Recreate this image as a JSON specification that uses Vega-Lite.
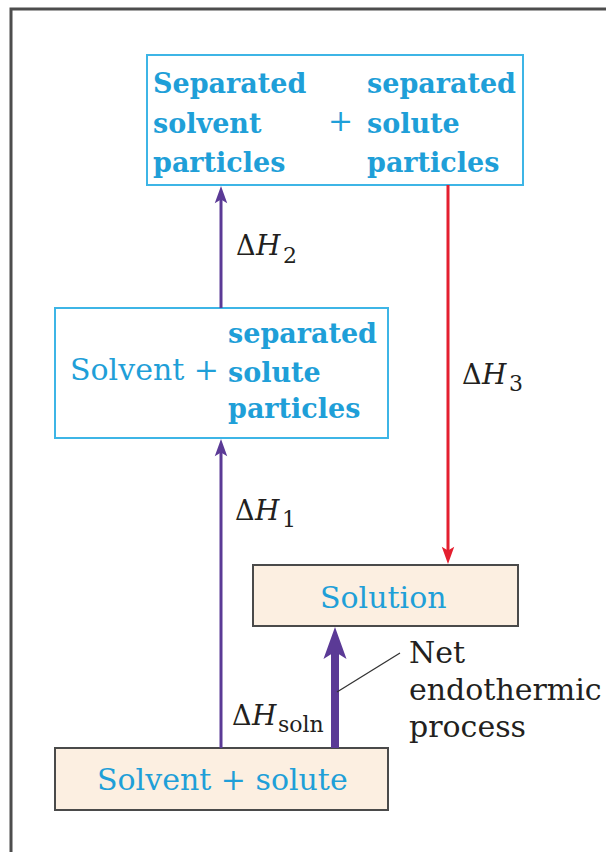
{
  "$schema": "https://vega.github.io/schema/vega-lite/v6.json",
  "width": 606,
  "height": 852,
  "autosize": "none",
  "padding": 0,
  "background": "#ffffff",
  "config": {"view": {"stroke": null}, "axis": {"disable": true}},
  "resolve": {"scale": {"color": "independent"}},
  "datasets": {
    "frame": [{"x": 11, "x2": 800, "y": 9, "y2": 1000}],
    "boxes": [
      {"name": "separated solvent + separated solute", "kind": "separated", "x": 147, "x2": 523, "y": 55, "y2": 185},
      {"name": "solvent + separated solute", "kind": "separated", "x": 55, "x2": 388, "y": 308, "y2": 438},
      {"name": "solution", "kind": "mixed", "x": 253, "x2": 518, "y": 565, "y2": 626},
      {"name": "solvent + solute", "kind": "mixed", "x": 55, "x2": 388, "y": 748, "y2": 810}
    ],
    "arrows": [
      {"step": "ΔH1", "effect": "endothermic", "weight": "step", "dir": "up", "x": 221, "from": 748, "neck": 447, "tip": 439},
      {"step": "ΔH2", "effect": "endothermic", "weight": "step", "dir": "up", "x": 221, "from": 308, "neck": 194, "tip": 186},
      {"step": "ΔH3", "effect": "exothermic", "weight": "step", "dir": "down", "x": 448, "from": 185, "neck": 556, "tip": 564},
      {"step": "ΔHsoln", "effect": "endothermic", "weight": "net", "dir": "up", "x": 335, "from": 748, "neck": 650, "tip": 627}
    ],
    "leaders": [{"x": 337, "y": 692, "x2": 400, "y2": 653}],
    "labels": [
      {"text": "Separated", "style": "bold", "role": "box", "x": 153, "y": 93},
      {"text": "solvent", "style": "bold", "role": "box", "x": 153, "y": 133},
      {"text": "particles", "style": "bold", "role": "box", "x": 153, "y": 172},
      {"text": "+", "style": "regular", "role": "box", "x": 328, "y": 131},
      {"text": "separated", "style": "bold", "role": "box", "x": 367, "y": 93},
      {"text": "solute", "style": "bold", "role": "box", "x": 367, "y": 133},
      {"text": "particles", "style": "bold", "role": "box", "x": 367, "y": 172},
      {"text": "Solvent +", "style": "regular", "role": "box", "x": 70, "y": 380},
      {"text": "separated", "style": "bold", "role": "box", "x": 228, "y": 343},
      {"text": "solute", "style": "bold", "role": "box", "x": 228, "y": 382},
      {"text": "particles", "style": "bold", "role": "box", "x": 228, "y": 418},
      {"text": "Solution", "style": "regular", "role": "box", "x": 320, "y": 608},
      {"text": "Solvent + solute", "style": "regular", "role": "box", "x": 97, "y": 790},
      {"text": "Net", "style": "regular", "role": "note", "x": 409, "y": 663},
      {"text": "endothermic", "style": "regular", "role": "note", "x": 409, "y": 700},
      {"text": "process", "style": "regular", "role": "note", "x": 409, "y": 737},
      {"text": "Δ", "style": "symbol", "role": "note", "x": 236, "y": 255},
      {"text": "H", "style": "italic", "role": "note", "x": 256, "y": 255},
      {"text": "2", "style": "sub", "role": "note", "x": 283, "y": 263},
      {"text": "Δ", "style": "symbol", "role": "note", "x": 235, "y": 520},
      {"text": "H", "style": "italic", "role": "note", "x": 255, "y": 520},
      {"text": "1", "style": "sub", "role": "note", "x": 282, "y": 527},
      {"text": "Δ", "style": "symbol", "role": "note", "x": 462, "y": 384},
      {"text": "H", "style": "italic", "role": "note", "x": 482, "y": 384},
      {"text": "3", "style": "sub", "role": "note", "x": 509, "y": 391},
      {"text": "Δ", "style": "symbol", "role": "note", "x": 232, "y": 725},
      {"text": "H", "style": "italic", "role": "note", "x": 252, "y": 725},
      {"text": "soln", "style": "sub", "role": "note", "x": 278, "y": 732}
    ]
  },
  "layer": [
    {
      "data": {"name": "frame"},
      "mark": {"type": "rect", "filled": false, "stroke": "#4d4d4d", "strokeWidth": 3},
      "encoding": {
        "x": {"field": "x", "type": "quantitative", "scale": {"domain": [0, 606], "nice": false, "zero": false}},
        "x2": {"field": "x2"},
        "y": {"field": "y", "type": "quantitative", "scale": {"domain": [0, 852], "nice": false, "zero": false, "reverse": true}},
        "y2": {"field": "y2"}
      }
    },
    {
      "data": {"name": "boxes"},
      "mark": {"type": "rect", "strokeWidth": 2, "opacity": 1},
      "encoding": {
        "x": {"field": "x", "type": "quantitative", "scale": {"domain": [0, 606], "nice": false, "zero": false}},
        "x2": {"field": "x2"},
        "y": {"field": "y", "type": "quantitative", "scale": {"domain": [0, 852], "nice": false, "zero": false, "reverse": true}},
        "y2": {"field": "y2"},
        "fill": {"field": "kind", "type": "nominal", "scale": {"domain": ["separated", "mixed"], "range": ["#ffffff", "#fcefe1"]}, "legend": null},
        "stroke": {"field": "kind", "type": "nominal", "scale": {"domain": ["separated", "mixed"], "range": ["#3db5e6", "#4a4a4a"]}, "legend": null}
      }
    },
    {
      "data": {"name": "arrows"},
      "mark": {"type": "rule", "strokeCap": "butt"},
      "encoding": {
        "x": {"field": "x", "type": "quantitative", "scale": {"domain": [0, 606], "nice": false, "zero": false}},
        "y": {"field": "from", "type": "quantitative", "scale": {"domain": [0, 852], "nice": false, "zero": false, "reverse": true}},
        "y2": {"field": "neck"},
        "color": {"field": "effect", "type": "nominal", "scale": {"domain": ["endothermic", "exothermic"], "range": ["#5b3a96", "#e41f2f"]}, "legend": null},
        "strokeWidth": {"field": "weight", "type": "ordinal", "scale": {"domain": ["step", "net"], "range": [3, 8]}, "legend": null}
      }
    },
    {
      "data": {"name": "arrows"},
      "mark": {"type": "point", "filled": true, "opacity": 1, "strokeWidth": 0},
      "encoding": {
        "x": {"field": "x", "type": "quantitative", "scale": {"domain": [0, 606], "nice": false, "zero": false}},
        "y": {"field": "tip", "type": "quantitative", "scale": {"domain": [0, 852], "nice": false, "zero": false, "reverse": true}},
        "shape": {"field": "dir", "type": "nominal", "scale": {"domain": ["up", "down"], "range": ["M0,0L0.72,2L0,1.55L-0.72,2Z", "M0,0L0.72,-2L0,-1.55L-0.72,-2Z"]}, "legend": null},
        "size": {"field": "weight", "type": "ordinal", "scale": {"domain": ["step", "net"], "range": [300, 1024]}, "legend": null},
        "color": {"field": "effect", "type": "nominal", "scale": {"domain": ["endothermic", "exothermic"], "range": ["#5b3a96", "#e41f2f"]}, "legend": null}
      }
    },
    {
      "data": {"name": "leaders"},
      "mark": {"type": "rule", "color": "#333333", "strokeWidth": 1.3},
      "encoding": {
        "x": {"field": "x", "type": "quantitative", "scale": {"domain": [0, 606], "nice": false, "zero": false}},
        "x2": {"field": "x2"},
        "y": {"field": "y", "type": "quantitative", "scale": {"domain": [0, 852], "nice": false, "zero": false, "reverse": true}},
        "y2": {"field": "y2"}
      }
    },
    {
      "data": {"name": "labels"},
      "transform": [{"filter": "datum.style === 'regular'"}],
      "mark": {"type": "text", "font": "DejaVu Serif", "fontSize": 30, "align": "left", "baseline": "alphabetic"},
      "encoding": {
        "x": {"field": "x", "type": "quantitative", "scale": {"domain": [0, 606], "nice": false, "zero": false}},
        "y": {"field": "y", "type": "quantitative", "scale": {"domain": [0, 852], "nice": false, "zero": false, "reverse": true}},
        "text": {"field": "text"},
        "color": {"field": "role", "type": "nominal", "scale": {"domain": ["box", "note"], "range": ["#1f9fd8", "#231f20"]}, "legend": null}
      }
    },
    {
      "data": {"name": "labels"},
      "transform": [{"filter": "datum.style === 'bold'"}],
      "mark": {"type": "text", "font": "DejaVu Serif", "fontWeight": "bold", "fontSize": 27, "align": "left", "baseline": "alphabetic"},
      "encoding": {
        "x": {"field": "x", "type": "quantitative", "scale": {"domain": [0, 606], "nice": false, "zero": false}},
        "y": {"field": "y", "type": "quantitative", "scale": {"domain": [0, 852], "nice": false, "zero": false, "reverse": true}},
        "text": {"field": "text"},
        "color": {"field": "role", "type": "nominal", "scale": {"domain": ["box", "note"], "range": ["#1f9fd8", "#231f20"]}, "legend": null}
      }
    },
    {
      "data": {"name": "labels"},
      "transform": [{"filter": "datum.style === 'symbol'"}],
      "mark": {"type": "text", "font": "DejaVu Serif", "fontSize": 27, "align": "left", "baseline": "alphabetic"},
      "encoding": {
        "x": {"field": "x", "type": "quantitative", "scale": {"domain": [0, 606], "nice": false, "zero": false}},
        "y": {"field": "y", "type": "quantitative", "scale": {"domain": [0, 852], "nice": false, "zero": false, "reverse": true}},
        "text": {"field": "text"},
        "color": {"field": "role", "type": "nominal", "scale": {"domain": ["box", "note"], "range": ["#1f9fd8", "#231f20"]}, "legend": null}
      }
    },
    {
      "data": {"name": "labels"},
      "transform": [{"filter": "datum.style === 'italic'"}],
      "mark": {"type": "text", "font": "DejaVu Serif", "fontStyle": "italic", "fontSize": 28, "align": "left", "baseline": "alphabetic"},
      "encoding": {
        "x": {"field": "x", "type": "quantitative", "scale": {"domain": [0, 606], "nice": false, "zero": false}},
        "y": {"field": "y", "type": "quantitative", "scale": {"domain": [0, 852], "nice": false, "zero": false, "reverse": true}},
        "text": {"field": "text"},
        "color": {"field": "role", "type": "nominal", "scale": {"domain": ["box", "note"], "range": ["#1f9fd8", "#231f20"]}, "legend": null}
      }
    },
    {
      "data": {"name": "labels"},
      "transform": [{"filter": "datum.style === 'sub'"}],
      "mark": {"type": "text", "font": "DejaVu Serif", "fontSize": 22, "align": "left", "baseline": "alphabetic"},
      "encoding": {
        "x": {"field": "x", "type": "quantitative", "scale": {"domain": [0, 606], "nice": false, "zero": false}},
        "y": {"field": "y", "type": "quantitative", "scale": {"domain": [0, 852], "nice": false, "zero": false, "reverse": true}},
        "text": {"field": "text"},
        "color": {"field": "role", "type": "nominal", "scale": {"domain": ["box", "note"], "range": ["#1f9fd8", "#231f20"]}, "legend": null}
      }
    }
  ]
}
